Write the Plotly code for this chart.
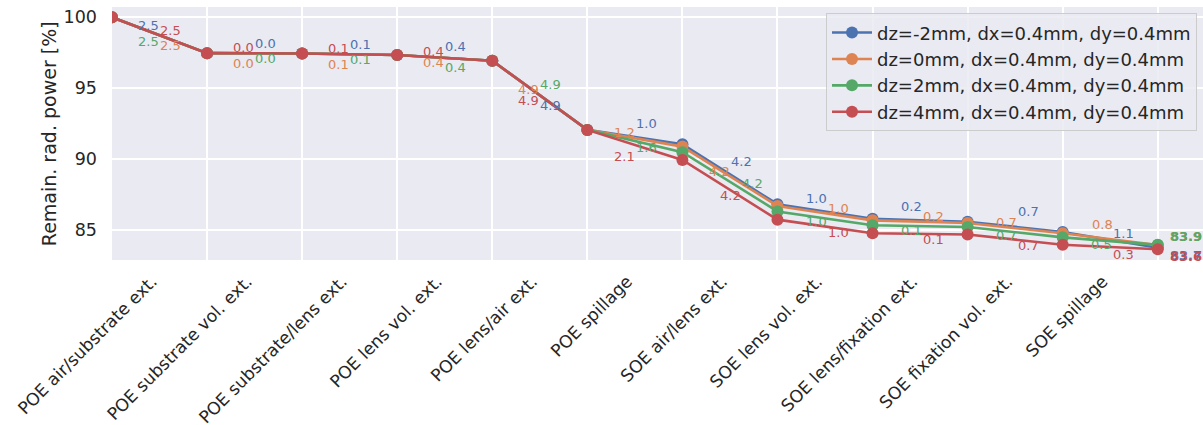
import plotly.graph_objects as go

# Loss stages (each label sits between two consecutive points)
stages = [
    "POE air/substrate ext.",
    "POE substrate vol. ext.",
    "POE substrate/lens ext.",
    "POE lens vol. ext.",
    "POE lens/air ext.",
    "POE spillage",
    "SOE air/lens ext.",
    "SOE lens vol. ext.",
    "SOE lens/fixation ext.",
    "SOE fixation vol. ext.",
    "SOE spillage",
]

# Remaining radiated power [%] after each stage (first value = start)
power_dz_m2 = [100.0, 97.47, 97.45, 97.34, 96.94, 92.05, 91.03, 86.80, 85.77, 85.56, 84.84, 83.72]
power_dz_0 = [100.0, 97.47, 97.45, 97.34, 96.94, 92.05, 90.87, 86.68, 85.66, 85.47, 84.75, 83.92]
power_dz_2 = [100.0, 97.47, 97.45, 97.34, 96.94, 92.05, 90.47, 86.29, 85.31, 85.19, 84.46, 83.93]
power_dz_4 = [100.0, 97.47, 97.45, 97.34, 96.94, 92.05, 89.93, 85.71, 84.75, 84.66, 83.94, 83.62]

series_names = [
    "dz=-2mm, dx=0.4mm, dy=0.4mm",
    "dz=0mm, dx=0.4mm, dy=0.4mm",
    "dz=2mm, dx=0.4mm, dy=0.4mm",
    "dz=4mm, dx=0.4mm, dy=0.4mm",
]
series_values = [power_dz_m2, power_dz_0, power_dz_2, power_dz_4]
colors = ["#4C72B0", "#DD8452", "#55A868", "#C44E52"]

# Pixel offsets of the loss labels from each segment midpoint (dy: positive = down)
label_dx = [
    [-11, 11, 11, 11, 11, 12, 12, -9, -9, 13, 13],
    [11, -11, -11, -11, -11, -10, -10, 13, 13, -9, -8],
    [-11, 11, 11, 11, 11, 12, 23, -9, -9, -9, -9],
    [11, -11, -11, -11, -11, -10, 1, 13, 13, 13, 13],
]
label_dy = [
    [-10, -10, -10, -11, 10, -14, -13, -13, -14, -15, -6],
    [10, 10, 10, 5, -6, -6, -5, -5, -5, -6, -15],
    [6, 5, 5, 10, -11, 6, 2, 3, 4, 3, 3],
    [-5, -6, -6, -6, 5, 12, 6, 6, 6, 6, 8],
]
# Offsets of the final-value labels
final_dx = [28, 28, 28, 28]
final_dy = [8, -8, -8, 7]

font_family = "DejaVu Sans"
text_color = "#262626"
x_points = list(range(len(power_dz_m2)))

fig = go.Figure()
for name, vals, col in zip(series_names, series_values, colors):
    fig.add_trace(go.Scatter(
        x=x_points, y=vals, name=name,
        mode="lines+markers",
        line=dict(color=col, width=2.6),
        marker=dict(color=col, size=12),
    ))

annotations = []
for s, (vals, col) in enumerate(zip(series_values, colors)):
    for i in range(len(vals) - 1):
        loss = vals[i] - vals[i + 1]
        annotations.append(dict(
            x=i + 0.5, y=(vals[i] + vals[i + 1]) / 2, xref="x", yref="y",
            text=f"{loss:.1f}", showarrow=False,
            xshift=label_dx[s][i], yshift=-label_dy[s][i],
            font=dict(family=font_family, size=13, color=col),
        ))
    annotations.append(dict(
        x=len(vals) - 1, y=vals[-1], xref="x", yref="y",
        text=f"<b>{vals[-1]:.1f}</b>", showarrow=False,
        xshift=final_dx[s], yshift=-final_dy[s],
        font=dict(family=font_family, size=13, color=col),
    ))

# y-axis title
annotations.append(dict(
    x=-0.058, y=0.5, xref="paper", yref="paper",
    text="Remain. rad. power [%]", textangle=-90, showarrow=False,
    xanchor="center", yanchor="middle",
    font=dict(family=font_family, size=19, color=text_color),
))

fig.update_layout(
    width=1203, height=425,
    margin=dict(l=112, r=0, t=7, b=165),
    paper_bgcolor="white",
    plot_bgcolor="#EAEAF2",
    font=dict(family=font_family, size=18, color=text_color),
    annotations=annotations,
    legend=dict(
        x=0.9945, y=0.975, xanchor="right", yanchor="top",
        bgcolor="rgba(234,234,242,0.85)", bordercolor="#cccccc", borderwidth=1,
        font=dict(family=font_family, size=18, color=text_color),
        itemwidth=40,
    ),
    showlegend=True,
)

fig.update_xaxes(
    range=[0, 11.476],
    automargin=False,
    tickmode="array",
    tickvals=[i + 0.42 for i in range(len(stages))],
    ticktext=stages,
    tickangle=-45,
    showgrid=False,
    zeroline=False,
    showline=False,
    ticks="",
    ticklabelstandoff=7,
    tickfont=dict(family=font_family, size=17.2, color=text_color),
    minor=dict(tickmode="linear", tick0=0, dtick=1, showgrid=True,
               gridcolor="white", gridwidth=1.6, ticks=""),
)
fig.update_yaxes(
    range=[82.86, 100.73],
    automargin=False,
    tickmode="array",
    tickvals=[85, 90, 95, 100],
    showgrid=True, gridcolor="white", gridwidth=1.6,
    zeroline=False, showline=False, ticks="",
    ticklabelstandoff=14,
    tickfont=dict(family=font_family, size=17.5, color=text_color),
)

fig.write_html("out.html")
